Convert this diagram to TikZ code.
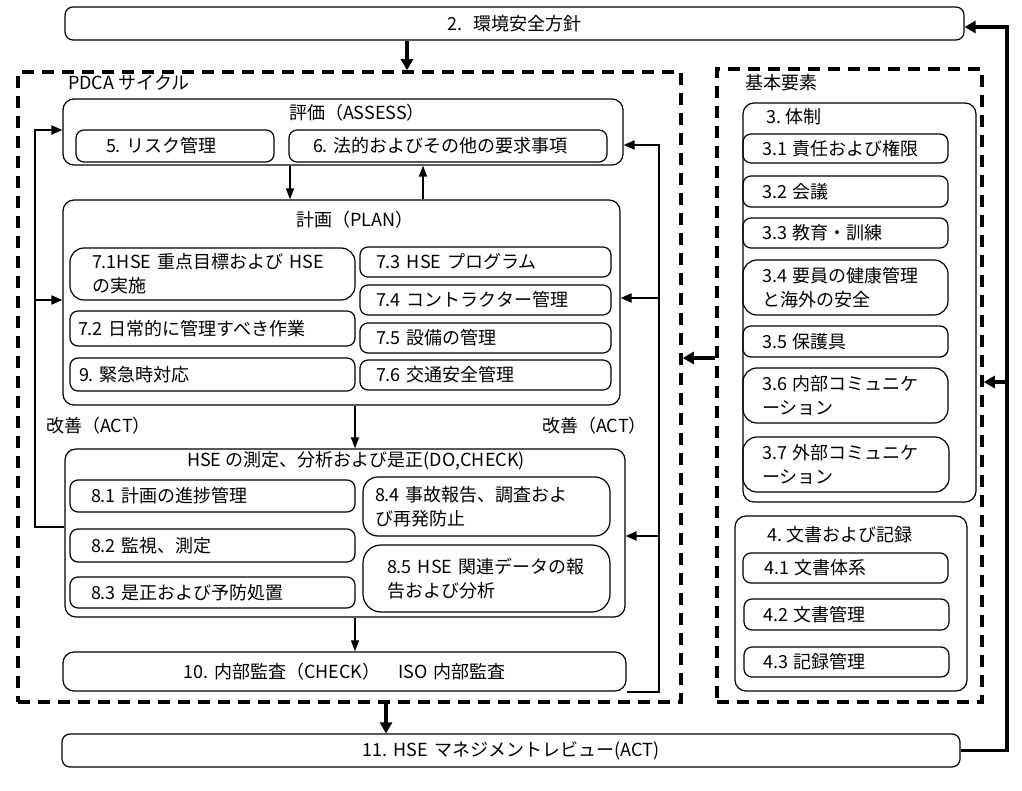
\documentclass[tikz,border=0pt]{standalone}
\usepackage{fontspec}
\setmainfont{Noto Sans CJK JP}
\usetikzlibrary{arrows.meta}
\newcommand\fs{\fontsize{18}{24}\selectfont}
\tikzset{
  rbox/.style={draw, line width=1.2pt, rounded corners=8pt, inner ysep=0pt, align=left, font=\fs},
  big/.style={rounded corners=11pt},
  twoline/.style={rounded corners=14pt},
  dbox/.style={line width=3.5pt, sharp corners, dash pattern=on 12pt off 8pt},
  arr/.style={-{Triangle[length=11pt,width=8pt]}, line width=1.5pt},
  fbarr/.style={-{Triangle[length=11pt,width=9pt]}, line width=2pt},
  tarr/.style={-{Triangle[length=11pt,width=12pt]}, line width=3.2pt},
  lbl/.style={inner sep=0pt, font=\fs},
}
% #1 options, #2 name, #3 x1, #4 y1, #5 x2, #6 y2, #7 left pad, #8 text
\newcommand\mkbox[8][]{%
  \pgfmathsetmacro\bxw{#5-#3}%
  \pgfmathsetmacro\bxh{#6-#4}%
  \pgfmathsetmacro\bxt{#5-#3-2*#7}%
  \node[rbox, #1, minimum width=\bxw pt, minimum height=\bxh pt,
        text width=\bxt pt, inner xsep=#7pt] (#2) at ({(#3+#5)/2},{(#4+#6)/2}) {#8};%
}
\begin{document}
\begin{tikzpicture}[x=1pt,y=-1pt]
\fill[white] (0,0) rectangle (1022,791);
\useasboundingbox (0,0) rectangle (1022,791);

% dashed containers
\mkbox[dbox]{pdca}{18}{72}{681}{702}{0}{}
\mkbox[dbox]{kihon}{717}{69}{982}{702}{0}{}
\node[lbl, anchor=west] (tPdca) at (68,83) {PDCA~サイクル};
\node[lbl, anchor=west] (tKihon) at (745,83) {基本要素};

% top and bottom
\mkbox[align=center]{p2}{65}{7}{964}{40}{0}{2.\hspace{0.6em}環境安全方針}
\mkbox[align=center]{p11}{62}{734}{960}{767}{0}{11.~HSE~マネジメントレビュー(ACT)}

% assess
\mkbox[big]{eval}{63}{99}{623}{165}{0}{}
\node[lbl] (tEval) at (357,113) {評価（ASSESS）};
\mkbox{b5}{76}{130}{274}{162}{30}{5.~リスク管理}
\mkbox{b6}{289}{130}{607}{162}{24}{6.~法的およびその他の要求事項}

% plan
\mkbox[big]{plan}{63}{200}{620}{405}{0}{}
\node[lbl] (tPlan) at (355,220) {計画（PLAN）};
\mkbox[twoline]{b71}{70}{248}{355}{300}{22}{7.1HSE~重点目標および~HSE\\の実施}
\mkbox{b72}{70}{311}{355}{346}{8}{7.2~日常的に管理すべき作業}
\mkbox{b9}{70}{358}{355}{391}{9}{9.~緊急時対応}
\mkbox{b73}{360}{247}{611}{277}{16}{7.3~HSE~プログラム}
\mkbox{b74}{360}{285}{611}{315}{16}{7.4~コントラクター管理}
\mkbox{b75}{360}{323}{611}{353}{16}{7.5~設備の管理}
\mkbox{b76}{360}{360}{611}{390}{16}{7.6~交通安全管理}

\node[lbl, anchor=west] (act1) at (46,426) {改善（ACT）};
\node[lbl, anchor=east] (act2) at (647,426) {改善（ACT）};

% do, check
\mkbox[big]{meas}{65}{449}{625}{617}{0}{}
\node[lbl] (tMeas) at (356,461) {HSE~の測定、分析および是正(DO,CHECK)};
\mkbox{b81}{70}{480}{355}{512}{21}{8.1~計画の進捗管理}
\mkbox{b82}{70}{529}{355}{562}{21}{8.2~監視、測定}
\mkbox{b83}{70}{577}{355}{608}{21}{8.3~是正および予防処置}
\mkbox[rounded corners=15pt]{b84}{363}{477}{610}{536}{12}{8.4~事故報告、調査およ\\び再発防止}
\mkbox[rounded corners=18pt]{b85}{363}{545}{610}{612}{24}{8.5~HSE~関連データの報\\告および分析}

% audit
\mkbox[big,align=center]{audit}{63}{652}{626}{691}{0}{10.~内部監査（CHECK）\hspace{1em}ISO~内部監査}

% basic elements
\mkbox[big]{org}{743}{103}{976}{502}{0}{}
\node[lbl, anchor=west] (tOrg) at (766,117) {3.~体制};
\mkbox{b31}{743}{134}{948}{163}{19}{3.1~責任および権限}
\mkbox{b32}{743}{176}{948}{207}{19}{3.2~会議}
\mkbox{b33}{743}{218}{948}{248}{19}{3.3~教育・訓練}
\mkbox[twoline]{b34}{743}{260}{948}{315}{19}{3.4~要員の健康管理\\と海外の安全}
\mkbox{b35}{743}{326}{948}{357}{19}{3.5~保護具}
\mkbox[twoline]{b36}{743}{368}{948}{423}{19}{3.6~内部コミュニケ\\ーション}
\mkbox[twoline]{b37}{743}{437}{949}{492}{19}{3.7~外部コミュニケ\\ーション}

\mkbox[big]{doc}{735}{516}{967}{691}{0}{}
\node[lbl, anchor=west] (tDoc) at (767,535) {4.~文書および記録};
\mkbox{b41}{743}{553}{948}{583}{21}{4.1~文書体系}
\mkbox{b42}{744}{599}{949}{630}{19}{4.2~文書管理}
\mkbox{b43}{744}{647}{949}{677}{19}{4.3~記録管理}

% helper coordinates
\coordinate (xa) at (407,0);
\coordinate (xb) at (386,0);
\coordinate (xc) at (290,0);
\coordinate (xd) at (423,0);
\coordinate (xe) at (355,0);
\coordinate (xf) at (659,0);
\coordinate (xl) at (35,0);
\coordinate (xr) at (1007,0);
\coordinate (yk) at (0,358);
\coordinate (y2) at (0,27);
\coordinate (yo) at (0,382);
\coordinate (y6) at (0,145);
\coordinate (y7) at (0,298);
\coordinate (y8) at (0,536);
\coordinate (y5) at (0,130);
\coordinate (y9) at (0,527);
\coordinate (y10) at (0,300);

% thick connectors
\draw[tarr] (p2.south -| xa) -- (pdca.north -| xa);
\draw[tarr] (pdca.south -| xb) -- (p11.north -| xb);
\draw[tarr] (kihon.west |- yk) -- (pdca.east |- yk);
\draw[tarr] (p11.east) -| (xr |- y2) -- (p2.east |- y2);
\draw[tarr] (xr |- yo) -- (kihon.east |- yo);

% inner flow
\draw[arr] (eval.south -| xc) -- (plan.north -| xc);
\draw[arr] (plan.north -| xd) -- (eval.south -| xd);
\draw[arr] (plan.south -| xe) -- (meas.north -| xe);
\draw[arr] (meas.south -| xe) -- (audit.north -| xe);

% right feedback
\draw[fbarr] (audit.south east) -- (audit.south east -| xf) -- (xf |- y6) -- (eval.east |- y6);
\draw[fbarr] (xf |- y7) -- (plan.east |- y7);
\draw[fbarr] (xf |- y8) -- (meas.east |- y8);

% left feedback
\draw[fbarr] (meas.west |- y9) -- (xl |- y9) -- (xl |- y5) -- (eval.west |- y5);
\draw[fbarr] (xl |- y10) -- (plan.west |- y10);
\end{tikzpicture}
\end{document}
